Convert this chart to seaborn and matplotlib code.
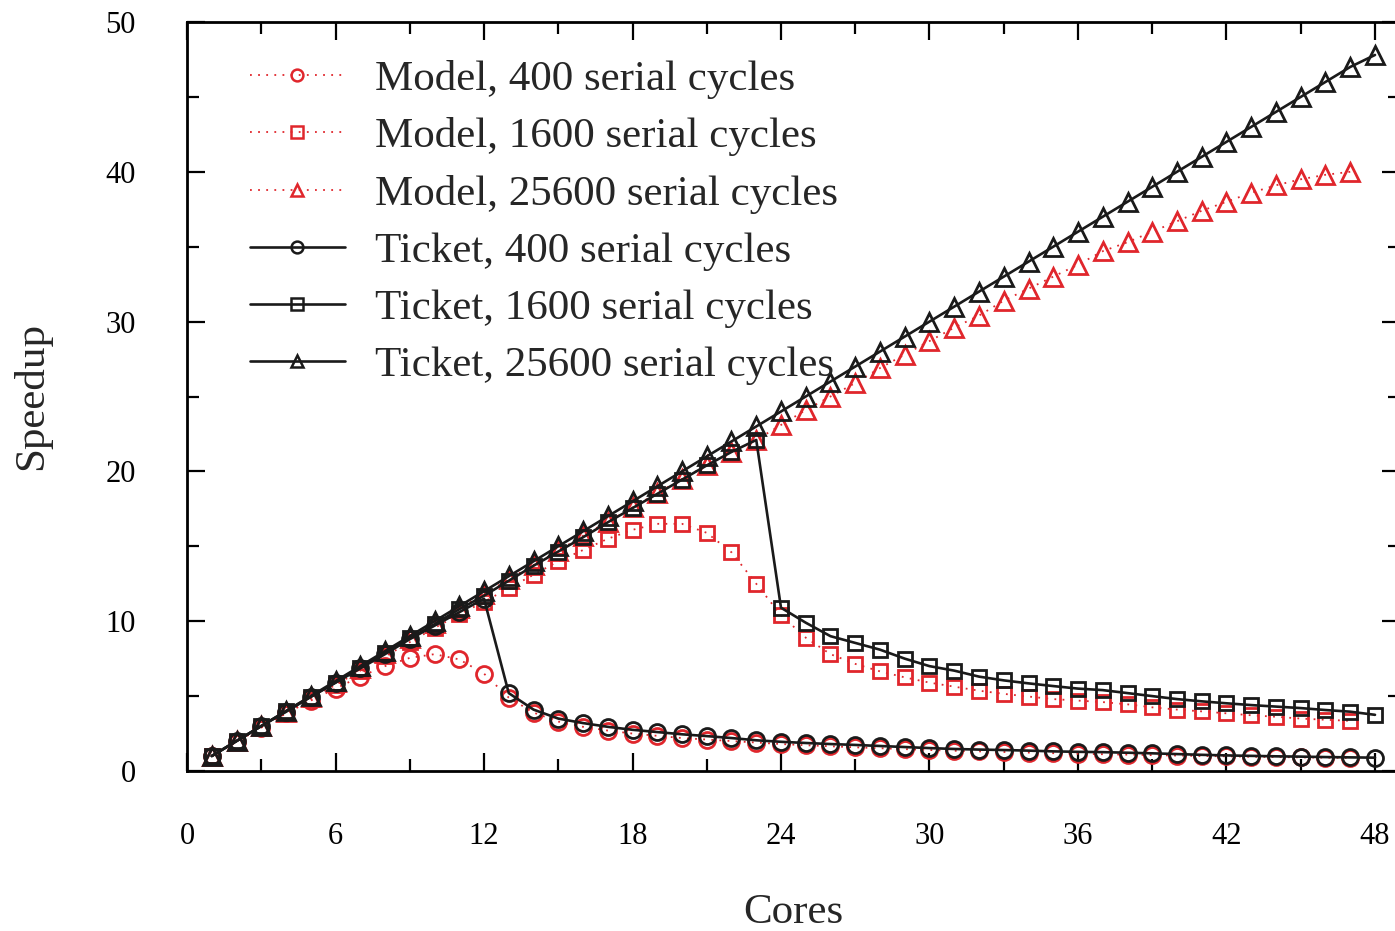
import matplotlib
matplotlib.use("Agg")
import matplotlib.pyplot as plt
import seaborn as sns
from matplotlib.ticker import MultipleLocator

# ---------------- data ----------------
cores_model = [1, 2, 3, 4, 5, 6, 7, 8, 9, 10, 11, 12, 13, 14, 15, 16, 17, 18, 19, 20,
               21, 22, 23, 24, 25, 26, 27, 28, 29, 30, 31, 32, 33, 34, 35, 36, 37, 38,
               39, 40, 41, 42, 43, 44, 45, 46, 47]
cores_ticket = [1, 2, 3, 4, 5, 6, 7, 8, 9, 10, 11, 12, 13, 14, 15, 16, 17, 18, 19, 20,
                21, 22, 23, 24, 25, 26, 27, 28, 29, 30, 31, 32, 33, 34, 35, 36, 37, 38,
                39, 40, 41, 42, 43, 44, 45, 46, 47, 48]

model_400 = [1.0, 1.95, 2.9, 3.85, 4.7, 5.5, 6.3, 7.0, 7.55, 7.8, 7.45, 6.5,
             4.9, 3.9, 3.3, 2.95, 2.7, 2.5, 2.35, 2.2, 2.1, 2.0,
             1.9, 1.8, 1.72, 1.65, 1.58, 1.52, 1.46, 1.4, 1.35, 1.31,
             1.27, 1.23, 1.19, 1.15, 1.12, 1.09, 1.06, 1.03, 1.0, 0.98,
             0.95, 0.93, 0.91, 0.89, 0.87]
model_1600 = [1.0, 1.95, 2.9, 3.85, 4.8, 5.75, 6.7, 7.65, 8.6, 9.55,
              10.45, 11.3, 12.2, 13.1, 14.0, 14.75, 15.5, 16.1, 16.5, 16.5,
              15.9, 14.6, 12.5, 10.4, 8.9, 7.8, 7.15, 6.65, 6.25, 5.9,
              5.63, 5.36, 5.15, 4.97, 4.8, 4.7, 4.6, 4.45, 4.25, 4.1,
              3.98, 3.85, 3.72, 3.62, 3.5, 3.42, 3.35]
model_25600 = [1.0, 2.0, 3.0, 3.95, 4.95, 5.95, 6.9, 7.9, 8.9, 9.85,
               10.85, 11.8, 12.8, 13.75, 14.7, 15.7, 16.65, 17.6, 18.55, 19.5,
               20.4, 21.3, 22.1, 23.1, 24.1, 25.0, 25.9, 26.9, 27.8, 28.7,
               29.6, 30.4, 31.4, 32.2, 33.0, 33.8, 34.7, 35.3, 36.0, 36.7,
               37.4, 38.0, 38.6, 39.1, 39.5, 39.8, 40.0]
ticket_400 = [1.0, 2.0, 3.0, 3.95, 4.95, 5.9, 6.85, 7.8, 8.8, 9.7, 10.6, 11.5,
              5.2, 4.1, 3.5, 3.2, 2.95, 2.75, 2.6, 2.45, 2.33, 2.2,
              2.05, 1.95, 1.87, 1.8, 1.74, 1.67, 1.6, 1.53, 1.47, 1.43,
              1.4, 1.36, 1.31, 1.28, 1.26, 1.22, 1.18, 1.13, 1.08, 1.04,
              1.01, 0.98, 0.96, 0.93, 0.91, 0.89]
ticket_1600 = [1.0, 2.0, 3.0, 4.0, 4.95, 5.9, 6.9, 7.9, 8.85, 9.8,
               10.8, 11.7, 12.7, 13.7, 14.65, 15.6, 16.6, 17.55, 18.5, 19.45,
               20.4, 21.3, 22.1, 10.9, 9.9, 9.0, 8.55, 8.1, 7.5, 7.0,
               6.7, 6.3, 6.05, 5.85, 5.67, 5.5, 5.4, 5.2, 5.0, 4.8,
               4.65, 4.52, 4.4, 4.3, 4.2, 4.07, 3.96, 3.75]
ticket_25600 = [1.0, 2.0, 3.0, 4.0, 5.0, 6.0, 7.0, 8.0, 9.0, 10.0,
                11.0, 12.0, 13.0, 14.0, 15.0, 16.0, 17.0, 18.0, 19.0, 20.0,
                21.0, 22.0, 23.0, 24.0, 25.0, 26.0, 27.0, 28.0, 29.0, 30.0,
                31.0, 32.0, 33.0, 34.0, 35.0, 36.0, 37.0, 38.0, 39.0, 40.0,
                41.0, 42.0, 43.0, 44.0, 45.0, 46.0, 47.0, 47.8]

labels = ["Model, 400 serial cycles", "Model, 1600 serial cycles",
          "Model, 25600 serial cycles", "Ticket, 400 serial cycles",
          "Ticket, 1600 serial cycles", "Ticket, 25600 serial cycles"]
x_ticks = [0, 6, 12, 18, 24, 30, 36, 42, 48]
y_ticks = [0, 10, 20, 30, 40, 50]

# ---------------- style ----------------
sns.set_theme(style="white")
plt.rcParams['font.family'] = ['Liberation Serif', 'DejaVu Serif']

RED = '#e0262c'
BLACK = '#1a1a1a'

fig = plt.figure(figsize=(13.95, 9.31), dpi=100)
ax_left = 187 / 1395
ax_bottom = (931 - 771) / 931
ax_height = (771 - 22) / 931
ax_width = 49 * 24.75 / 1395
ax = fig.add_axes([ax_left, ax_bottom, ax_width, ax_height])

series = [
    (cores_model, model_400, RED, (0, (1, 3.5)), 'o', 11.5, 1.3),
    (cores_model, model_1600, RED, (0, (1, 3.5)), 's', 10.5, 1.3),
    (cores_model, model_25600, RED, (0, (1, 3.5)), '^', 13, 1.3),
    (cores_ticket, ticket_400, BLACK, '-', 'o', 11.5, 1.9),
    (cores_ticket, ticket_1600, BLACK, '-', 's', 10.5, 1.9),
    (cores_ticket, ticket_25600, BLACK, '-', '^', 13, 1.9),
]

for (xs, ys, col, ls, mk, ms, lw), lab in zip(series, labels):
    sns.lineplot(x=xs, y=ys, ax=ax, color=col, linestyle=ls, linewidth=lw,
                 marker=mk, markersize=ms, markerfacecolor='none',
                 markeredgecolor=col, markeredgewidth=2.0, label=lab)

ax.set_xlim(0, 49)
ax.set_ylim(0, 50)
ax.xaxis.set_minor_locator(MultipleLocator(3))
ax.yaxis.set_minor_locator(MultipleLocator(5))
ax.set_xticks(x_ticks)
ax.set_yticks(y_ticks)
ax.set_xticklabels([str(v) for v in x_ticks])
ax.set_yticklabels([str(v) for v in y_ticks])

ax.tick_params(which='both', direction='in', top=True, right=True,
               bottom=True, left=True, colors='black')
ax.tick_params(which='major', length=13, width=1.6, labelsize=22)
ax.tick_params(which='minor', length=8.5, width=1.6)
ax.tick_params(axis='x', which='major', pad=37)
ax.tick_params(axis='y', which='major', pad=37)

for sp in ax.spines.values():
    sp.set_linewidth(2.0)
    sp.set_color('black')
    sp.set_visible(True)

ax.set_xlabel("Cores", fontsize=31, va='center')
ax.set_ylabel("Speedup", fontsize=31, va='center')
ax.xaxis.set_label_coords(0.5, -(913 - 771) / 749)
ax.yaxis.set_label_coords(-(187 - 32) / 1212.75, 0.5)

leg = ax.legend(loc='upper left',
                bbox_to_anchor=((250 - 187) / 1212.75, (771 - 60) / 749),
                frameon=False, fontsize=31, borderpad=0, borderaxespad=0,
                handlelength=2.2, handletextpad=0.7, labelspacing=0.42)
for h in leg.legend_handles:
    h.set_markersize(8.5)
    h.set_markeredgewidth(1.8)

fig.savefig("out.png", dpi=100)
